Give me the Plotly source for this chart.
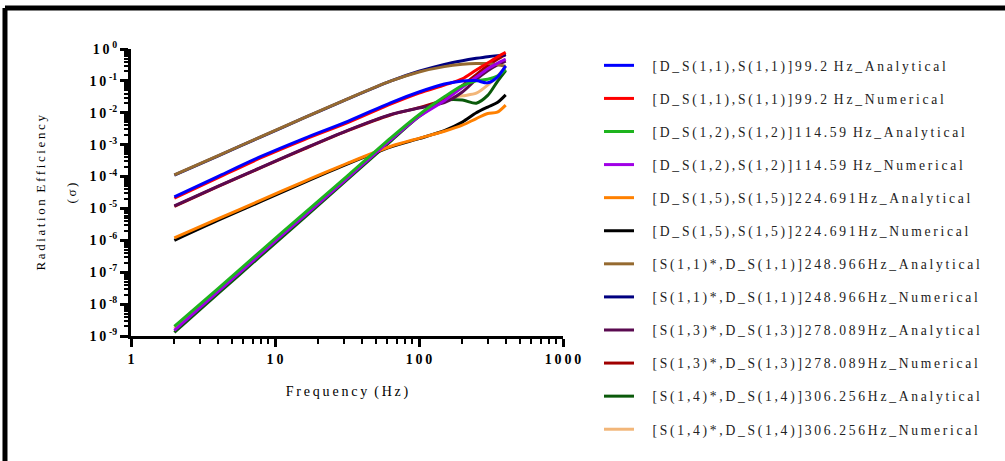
import plotly.graph_objects as go

# Frequencies (Hz) at which radiation efficiency was evaluated
freq = [2, 4, 8, 16, 32, 64, 100, 150, 200, 250, 300, 350, 400]

# Radiation efficiency (sigma) per case
ds11_ana = [2.29e-5, 1.0e-4, 4.27e-4, 1.58e-3, 5.37e-3, 2.09e-2, 4.47e-2, 7.94e-2, 0.100, 0.102, 0.087, 0.132, 0.295]
ds11_num = [2.09e-5, 9.1e-5, 3.89e-4, 1.45e-3, 4.9e-3, 1.9e-2, 4.17e-2, 7.4e-2, 0.115, 0.219, 0.363, 0.562, 0.78]
ds12_ana = [2.0e-9, 3.0e-8, 4.7e-7, 7.1e-6, 1.07e-4, 1.66e-3, 8.7e-3, 3.16e-2, 7.1e-2, 0.100, 0.112, 0.141, 0.229]
ds12_num = [1.5e-9, 2.4e-8, 3.8e-7, 5.9e-6, 9.1e-5, 1.45e-3, 7.6e-3, 2.4e-2, 6.3e-2, 0.132, 0.24, 0.355, 0.48]
ds15_ana = [1.2e-6, 4.7e-6, 1.82e-5, 7.1e-5, 2.63e-4, 8.9e-4, 1.58e-3, 2.63e-3, 4.07e-3, 6.6e-3, 9.5e-3, 1.05e-2, 1.74e-2]
ds15_num = [1.0e-6, 4.2e-6, 1.66e-5, 6.6e-5, 2.5e-4, 8.5e-4, 1.55e-3, 2.75e-3, 5.1e-3, 1.0e-2, 1.51e-2, 2.09e-2, 3.63e-2]
s11_ana = [1.12e-4, 4.47e-4, 1.78e-3, 7.1e-3, 2.75e-2, 0.100, 0.19, 0.28, 0.33, 0.35, 0.35, 0.32, 0.29]
s11_num = [1.1e-4, 4.4e-4, 1.76e-3, 7.0e-3, 2.72e-2, 0.100, 0.20, 0.33, 0.43, 0.51, 0.575, 0.62, 0.65]
s13_ana = [1.2e-5, 4.9e-5, 1.95e-4, 7.6e-4, 2.82e-3, 8.9e-3, 1.41e-2, 2.09e-2, 4.47e-2, 0.112, 0.209, 0.316, 0.417]
s13_num = [1.17e-5, 4.8e-5, 1.9e-4, 7.4e-4, 2.75e-3, 8.7e-3, 1.45e-2, 2.63e-2, 7.1e-2, 0.158, 0.30, 0.48, 0.68]
s14_ana = [1.3e-9, 2.1e-8, 3.3e-7, 5.2e-6, 8.3e-5, 1.32e-3, 7.6e-3, 2.4e-2, 2.5e-2, 2.0e-2, 3.5e-2, 9.5e-2, 0.21]
s14_num = [1.74e-9, 2.7e-8, 4.2e-7, 6.5e-6, 1.0e-4, 1.55e-3, 8.3e-3, 2.63e-2, 3.4e-2, 4.1e-2, 7.4e-2, 0.141, 0.28]

series_names = [
    "[D_S(1,1),S(1,1)]99.2 Hz_Analytical",
    "[D_S(1,1),S(1,1)]99.2 Hz_Numerical",
    "[D_S(1,2),S(1,2)]114.59 Hz_Analytical",
    "[D_S(1,2),S(1,2)]114.59 Hz_Numerical",
    "[D_S(1,5),S(1,5)]224.691Hz_Analytical",
    "[D_S(1,5),S(1,5)]224.691Hz_Numerical",
    "[S(1,1)*,D_S(1,1)]248.966Hz_Analytical",
    "[S(1,1)*,D_S(1,1)]248.966Hz_Numerical",
    "[S(1,3)*,D_S(1,3)]278.089Hz_Analytical",
    "[S(1,3)*,D_S(1,3)]278.089Hz_Numerical",
    "[S(1,4)*,D_S(1,4)]306.256Hz_Analytical",
    "[S(1,4)*,D_S(1,4)]306.256Hz_Numerical",
]
series_values = [ds11_ana, ds11_num, ds12_ana, ds12_num, ds15_ana, ds15_num,
                 s11_ana, s11_num, s13_ana, s13_num, s14_ana, s14_num]
series_colors = ["#0000FF", "#FF0000", "#1EB41E", "#A000E6", "#FF8000", "#000000",
                 "#956A30", "#000080", "#5A0A50", "#A00000", "#0A5A0A", "#F2B679"]

x_tick_vals = [1, 10, 100, 1000]
x_tick_text = ["1", "10", "100", "1000"]
y_exponents = [0, -1, -2, -3, -4, -5, -6, -7, -8, -9]

THIN = "\u2009"
WORD_GAP = " \u00a0"


def spaced(text):
    """Spread letters apart with thin spaces; real spaces become wider gaps."""
    return WORD_GAP.join(THIN.join(word) for word in text.split(" "))


fig = go.Figure()

# First series are drawn last so they sit on top of the later ones
for i in reversed(range(len(series_names))):
    fig.add_trace(go.Scatter(
        x=freq, y=series_values[i], mode="lines",
        line=dict(color=series_colors[i], width=3, shape="spline", smoothing=0.8),
        name="\u00a0\u00a0\u00a0\u00a0" + spaced(series_names[i]),
        legendgroup=f"g{i}", legendrank=i + 1,
    ))

serif = "Liberation Serif, Times New Roman, serif"

minor_x = [m * 10 ** e for e in range(0, 3) for m in range(2, 10)]
minor_y = [m * 10.0 ** e for e in range(-9, 0) for m in range(2, 10)]

fig.update_xaxes(
    type="log", range=[0, 3],
    tickmode="array", tickvals=x_tick_vals,
    ticktext=[f"<b>{spaced(t)}</b>" for t in x_tick_text],
    tickfont=dict(family=serif, size=14, color="black"),
    showline=True, linecolor="black", linewidth=3,
    ticks="outside", ticklen=8, tickwidth=3, tickcolor="black",
    minor=dict(tickmode="array", tickvals=minor_x, ticks="outside",
               ticklen=5, tickwidth=2, tickcolor="black"),
    showgrid=False, zeroline=False,
    title=dict(text=spaced("Frequency (Hz)"),
               font=dict(family=serif, size=14, color="black"), standoff=21),
)

fig.update_yaxes(
    type="log", range=[-9, 0],
    tickmode="array", tickvals=[10.0 ** e for e in y_exponents],
    ticktext=[f"<b>1{THIN}0{THIN}<sup>{e}</sup></b>" for e in y_exponents],
    tickfont=dict(family=serif, size=14, color="black"),
    showline=True, linecolor="black", linewidth=3,
    ticks="outside", ticklen=8, tickwidth=3, tickcolor="black",
    minor=dict(tickmode="array", tickvals=minor_y, ticks="outside",
               ticklen=4, tickwidth=2, tickcolor="black"),
    showgrid=False, zeroline=False,
)

# Two-line rotated y-axis title
fig.add_annotation(
    text=spaced("Radiation Efficiency"),
    xref="paper", yref="paper", x=-0.2106, y=0.5, textangle=-90,
    xanchor="center", yanchor="middle",
    showarrow=False, font=dict(family=serif, size=13, color="black"),
)
fig.add_annotation(
    text=spaced("(σ)"),
    xref="paper", yref="paper", x=-0.1366, y=0.5, textangle=-90,
    xanchor="center", yanchor="middle",
    showarrow=False, font=dict(family=serif, size=13, color="black"),
)

# Outer frame (left and top edges)
fig.add_shape(type="line", xref="paper", yref="paper",
              x0=-0.2917, x1=-0.2917, y0=-0.45, y1=1.1429,
              line=dict(color="black", width=5))
fig.add_shape(type="line", xref="paper", yref="paper",
              x0=-0.2917, x1=2.03, y0=1.1429, y1=1.1429,
              line=dict(color="black", width=5))

fig.update_layout(
    width=1005, height=461,
    margin=dict(l=131, r=442, t=49, b=125),
    paper_bgcolor="white", plot_bgcolor="white",
    showlegend=True,
    legend=dict(
        x=1.0833, y=0.9965, xanchor="left", yanchor="top",
        font=dict(family=serif, size=13.6, color="#222222"),
        tracegroupgap=12.4, bgcolor="rgba(0,0,0,0)",
        maxheight=455,
    ),
)

fig.write_html("out.html")
